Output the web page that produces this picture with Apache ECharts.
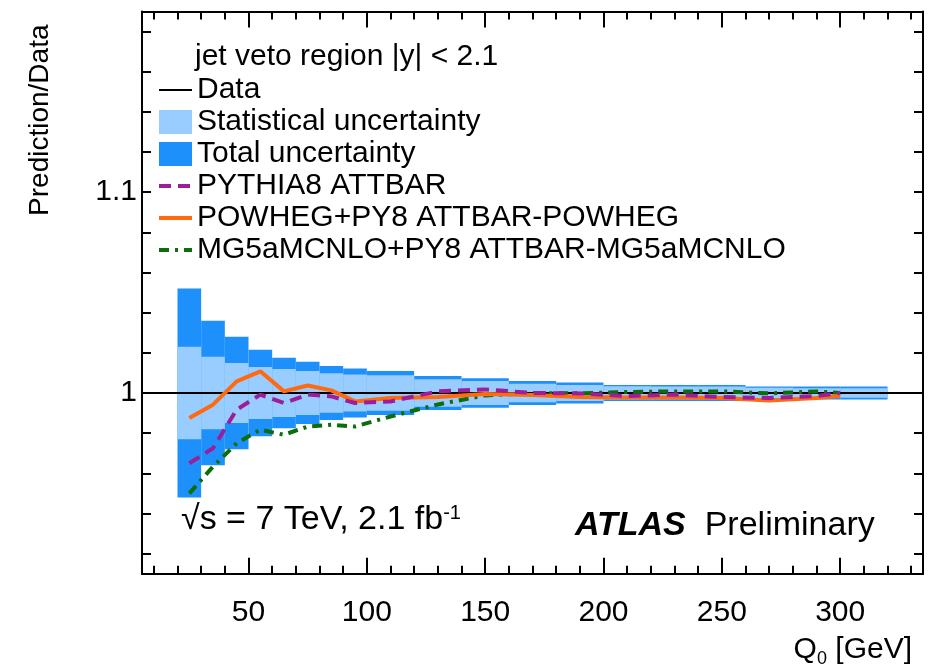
<!DOCTYPE html>
<html>
<head>
<meta charset="utf-8">
<script src="https://cdn.jsdelivr.net/npm/echarts@6/dist/echarts.min.js"></script>
<style>
  html, body { margin: 0; padding: 0; background: #fff; }
  #chart { width: 928px; height: 671px; }
</style>
</head>
<body>
<div id="chart"></div>
<script>
// bin edges in Q0 [GeV]
const binLo = [20, 30, 40, 50, 60, 70, 80, 90, 100, 120, 140, 160, 180, 200, 220, 240, 260, 280, 300]
const binHi = [30, 40, 50, 60, 70, 80, 90, 100, 120, 140, 160, 180, 200, 220, 240, 260, 280, 300, 320]
// relative uncertainty (half width) around Data = 1
const statErr = [0.023, 0.018, 0.015, 0.013, 0.012, 0.011, 0.0098, 0.0092, 0.0088, 0.0068, 0.006, 0.0046, 0.004, 0.0033, 0.0032, 0.0032, 0.0026, 0.0024, 0.0024]
const totErr = [0.052, 0.036, 0.028, 0.0215, 0.0175, 0.0155, 0.0135, 0.0122, 0.011, 0.0085, 0.0073, 0.006, 0.0052, 0.004, 0.004, 0.004, 0.0032, 0.0032, 0.0032]

// prediction / data
const predX = [25, 35, 45, 55, 65, 75, 85, 95, 110, 130, 150, 170, 190, 210, 230, 250, 270, 290, 300]
const pythia = [0.965, 0.9725, 0.9917, 0.9992, 0.995, 0.9992, 0.9983, 0.995, 0.9958, 1.0008, 1.0018, 1.0, 0.9998, 0.9985, 0.9992, 0.998, 0.9975, 0.9985, 1.0]
const powheg = [0.9875, 0.9942, 1.0058, 1.0108, 1.0008, 1.0037, 1.0013, 0.9958, 0.9975, 0.998, 0.9995, 0.999, 0.998, 0.9977, 0.9977, 0.9975, 0.9962, 0.9975, 0.9985]
const mg5 = [0.95, 0.9633, 0.975, 0.9817, 0.9792, 0.9833, 0.9842, 0.9833, 0.9883, 0.9943, 0.9988, 1.0, 0.9998, 1.0005, 1.0008, 1.0008, 0.9998, 1.0008, 1.0]

// axis ticks
const xMajor = [50, 100, 150, 200, 250, 300]
const xMinor = [10, 20, 30, 40, 60, 70, 80, 90, 110, 120, 130, 140, 160, 170, 180, 190, 210, 220, 230, 240, 260, 270, 280, 290, 310, 320, 330]
const yTicks = [0.92, 0.94, 0.96, 0.98, 1.0, 1.02, 1.04, 1.06, 1.08, 1.1, 1.12, 1.14, 1.16, 1.18]
const yLabels = [1.0, 1.1]

const FONT = 'Liberation Sans, Arial, Helvetica, sans-serif'

function zip(xs, ys) {
  return xs.map((x, i) => [x, ys[i]])
}

function bandSeries(name, errs, color, z) {
  return {
    name: name,
    type: 'custom',
    z: z,
    itemStyle: { color: color },
    encode: { x: [0, 1] },
    data: binLo.map((lo, i) => [lo, binHi[i], errs[i]]),
    renderItem: function (params, api) {
      const h = api.value(2)
      const p1 = api.coord([api.value(0), 1 + h])
      const p2 = api.coord([api.value(1), 1 - h])
      return {
        type: 'rect',
        shape: { x: p1[0], y: p1[1], width: p2[0] - p1[0], height: p2[1] - p1[1] },
        style: { fill: color }
      }
    },
    silent: true
  }
}

const myChart = echarts.init(document.getElementById('chart'))

const tickAxisX = (pos, values, len, extra) => Object.assign({
  type: 'value',
  position: pos,
  min: 5,
  max: 335,
  splitLine: { show: false },
  axisLine: { show: false },
  axisLabel: { show: false },
  axisTick: { show: true, inside: true, length: len, customValues: values, lineStyle: { color: '#000', width: 2 } }
}, extra || {})

// line entries in the legend: hide the symbol, keep the line
const noSymbol = { opacity: 0 }

const option = {
  animation: false,
  backgroundColor: '#fff',
  textStyle: { fontFamily: FONT },
  grid: { left: 142, right: 5, top: 11.5, bottom: 97.3, containLabel: false },
  title: {
    text: 'jet veto region |y| < 2.1',
    left: 195,
    top: 42,
    padding: 0,
    textStyle: { fontFamily: FONT, fontSize: 30, fontWeight: 'normal', color: '#000', lineHeight: 30 }
  },
  legend: {
    orient: 'vertical',
    left: 157,
    top: 75,
    padding: 0,
    itemWidth: 33,
    itemHeight: 24,
    itemGap: 2,
    selectedMode: false,
    textStyle: { fontFamily: FONT, fontSize: 30, color: '#000', lineHeight: 30 },
    data: [
      { name: 'Data', itemStyle: noSymbol, lineStyle: { width: 2 } },
      { name: 'Statistical uncertainty', icon: 'rect' },
      { name: 'Total uncertainty', icon: 'rect' },
      { name: 'PYTHIA8 ATTBAR', itemStyle: noSymbol, lineStyle: { width: 4 } },
      { name: 'POWHEG+PY8 ATTBAR-POWHEG', itemStyle: noSymbol, lineStyle: { width: 4 } },
      { name: 'MG5aMCNLO+PY8 ATTBAR-MG5aMCNLO', itemStyle: noSymbol, lineStyle: { width: 4 } }
    ]
  },
  xAxis: [
    {
      type: 'value',
      position: 'bottom',
      min: 5,
      max: 335,
      name: 'Q{sub|0} [GeV]',
      nameLocation: 'end',
      nameGap: -11,
      nameTextStyle: {
        fontFamily: FONT, fontSize: 30, color: '#000', align: 'right', verticalAlign: 'top', padding: [58, 0, 0, 0],
        rich: { sub: { fontFamily: FONT, fontSize: 18, color: '#000', verticalAlign: 'bottom', padding: [18, 0, 0, 0] } }
      },
      splitLine: { show: false },
      axisLine: { show: true, onZero: false, lineStyle: { color: '#000', width: 2 } },
      axisTick: { show: true, inside: true, length: 16, customValues: xMajor, lineStyle: { color: '#000', width: 2 } },
      axisLabel: { show: true, customValues: xMajor, fontFamily: FONT, fontSize: 30, color: '#000', margin: 24 }
    },
    tickAxisX('bottom', xMinor, 8),
    tickAxisX('top', xMajor, 16, { axisLine: { show: true, onZero: false, lineStyle: { color: '#000', width: 2 } } }),
    tickAxisX('top', xMinor, 8)
  ],
  yAxis: [
    {
      type: 'value',
      position: 'left',
      min: 0.91,
      max: 1.19,
      name: 'Prediction/Data',
      nameLocation: 'end',
      nameRotate: 90,
      nameGap: -13,
      nameTextStyle: { fontFamily: FONT, fontSize: 28, color: '#000', align: 'right', verticalAlign: 'bottom', padding: [0, 0, 88, 0] },
      splitLine: { show: false },
      axisLine: { show: true, onZero: false, lineStyle: { color: '#000', width: 2 } },
      axisTick: { show: true, inside: true, length: 9, customValues: yTicks, lineStyle: { color: '#000', width: 2 } },
      axisLabel: {
        show: true, customValues: yLabels, fontFamily: FONT, fontSize: 30, color: '#000', margin: 5,
        formatter: v => String(Math.round(v * 10) / 10)
      }
    },
    {
      type: 'value',
      position: 'right',
      min: 0.91,
      max: 1.19,
      splitLine: { show: false },
      axisLine: { show: true, onZero: false, lineStyle: { color: '#000', width: 2 } },
      axisTick: { show: true, inside: true, length: 9, customValues: yTicks, lineStyle: { color: '#000', width: 2 } },
      axisLabel: { show: false }
    }
  ],
  graphic: [
    {
      type: 'text',
      left: 181,
      top: 503,
      style: {
        text: '√s = 7 TeV, 2.1 fb{sup|-1}',
        font: '34px ' + FONT,
        fill: '#000',
        rich: { sup: { font: '20px ' + FONT, fill: '#000', verticalAlign: 'top', padding: [0, 0, 14, 0] } }
      }
    },
    {
      type: 'text',
      left: 575,
      top: 509,
      style: {
        text: '{b|ATLAS}  Preliminary',
        font: '34px ' + FONT,
        fill: '#000',
        rich: { b: { font: 'italic bold 34px ' + FONT, fill: '#000' } }
      }
    }
  ],
  series: [
    bandSeries('Total uncertainty', totErr, '#1e90fb', 1),
    bandSeries('Statistical uncertainty', statErr, '#99ccff', 2),
    {
      name: 'Data',
      type: 'line',
      z: 3,
      symbol: 'none',
      silent: true,
      lineStyle: { color: '#000', width: 2 },
      itemStyle: { color: '#000' },
      data: [[5, 1], [335, 1]]
    },
    {
      name: 'MG5aMCNLO+PY8 ATTBAR-MG5aMCNLO',
      type: 'line',
      z: 4,
      symbol: 'none',
      silent: true,
      lineStyle: { color: '#0b6e0b', width: 4, type: [10, 6, 3, 6] },
      itemStyle: { color: '#0b6e0b' },
      data: zip(predX, mg5)
    },
    {
      name: 'POWHEG+PY8 ATTBAR-POWHEG',
      type: 'line',
      z: 5,
      symbol: 'none',
      silent: true,
      lineStyle: { color: '#ff6a10', width: 4 },
      itemStyle: { color: '#ff6a10' },
      data: zip(predX, powheg)
    },
    {
      name: 'PYTHIA8 ATTBAR',
      type: 'line',
      z: 6,
      symbol: 'none',
      silent: true,
      lineStyle: { color: '#9b1f9b', width: 4, type: [12, 7] },
      itemStyle: { color: '#9b1f9b' },
      data: zip(predX, pythia)
    }
  ]
}

myChart.setOption(option)
window.addEventListener('resize', function () {
  myChart.resize()
})
</script>
</body>
</html>
